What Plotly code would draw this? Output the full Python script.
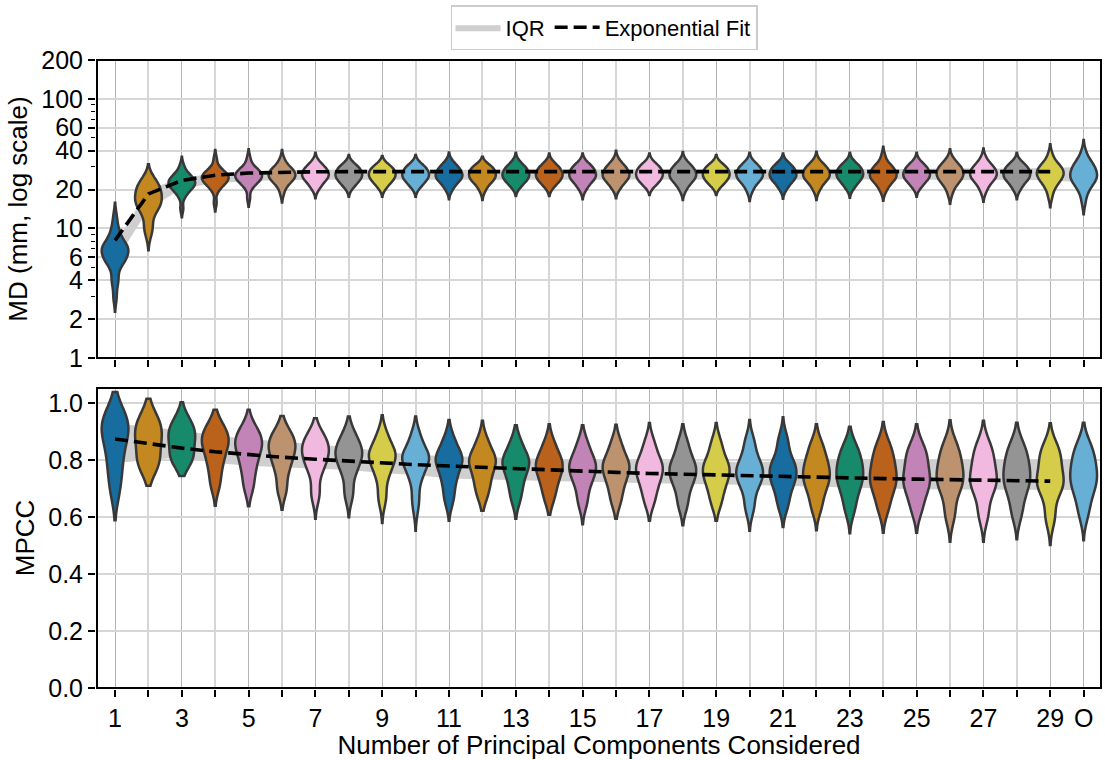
import math
import plotly.graph_objects as go

# ---------------- data ----------------
categories = [str(i) for i in range(1, 30)] + ["O"]
tick_labels = ["1", "3", "5", "7", "9", "11", "13", "15", "17", "19", "21",
               "23", "25", "27", "29", "O"]

# MD (mm) per category: violin tail tips and body quantiles
md_lo_tip = [2.28, 6.8, 12.2, 13.5, 14.7, 15.9, 17.1, 17.6, 17.6, 17.6, 16.8, 16.6, 17.8, 17.8, 16.8,
             17.1, 18.1, 16.6, 18.1, 16.3, 17.0, 16.6, 17.3, 16.4, 17.6, 15.5, 16.1, 16.8, 14.6, 12.9]
md_hi_tip = [15.8, 31.3, 35.8, 40.4, 40.9, 40.4, 38.5, 37.0, 36.3, 37.0, 38.7, 35.8, 38.5, 38.0, 38.0,
             39.8, 38.0, 39.0, 37.0, 38.5, 38.0, 39.2, 38.5, 42.7, 38.5, 41.0, 41.5, 38.5, 44.8, 48.3]
md_p10 = [4.0, 10.5, 18.0, 20.0, 21.0, 21.3, 21.5, 21.7, 21.7, 21.7, 21.4, 21.4, 21.8, 21.8, 21.4,
          21.5, 22.0, 21.4, 22.0, 21.3, 21.5, 21.4, 21.6, 21.3, 21.8, 21.0, 21.2, 21.4, 20.5, 19.5]
md_q1 = [5.5, 14.1, 20.4, 22.4, 23.3, 23.6, 23.8, 23.8, 23.8, 23.8, 23.7, 23.6, 23.9, 23.9, 23.7,
         23.8, 24.0, 23.7, 24.0, 23.7, 23.8, 23.8, 23.9, 23.7, 24.0, 23.6, 23.8, 23.8, 23.5, 22.8]
md_med = [6.6, 16.8, 22.4, 24.5, 25.4, 25.8, 26.0, 25.9, 25.9, 25.9, 25.8, 25.7, 26.0, 26.0, 25.9,
          26.0, 26.2, 26.0, 26.1, 26.0, 26.0, 26.1, 26.2, 26.0, 26.1, 26.3, 26.3, 26.1, 26.4, 25.9]
md_q3 = [7.6, 20.0, 24.6, 26.6, 27.6, 28.2, 28.5, 28.4, 28.3, 28.4, 28.5, 28.3, 28.6, 28.6, 28.6,
         28.8, 28.8, 28.7, 28.6, 28.7, 28.7, 28.8, 28.9, 28.9, 28.8, 29.2, 29.1, 28.9, 29.4, 29.8]
md_p90 = [9.5, 23.0, 27.0, 29.2, 30.2, 30.8, 30.8, 30.5, 30.3, 30.5, 30.8, 30.3, 30.8, 30.7, 30.7,
          31.2, 30.9, 31.0, 30.6, 30.9, 30.8, 31.0, 31.0, 31.6, 30.9, 31.8, 31.8, 31.0, 32.5, 33.5]
md_fit = [8.1, 18.5, 23.5, 25.8, 26.8, 27.2, 27.4, 27.5, 27.5, 27.5, 27.5, 27.5, 27.5, 27.5, 27.5,
          27.5, 27.5, 27.5, 27.5, 27.5, 27.5, 27.5, 27.5, 27.5, 27.5, 27.5, 27.5, 27.5, 27.5]

# MPCC per category
mpcc_lo_tip = [0.589, 0.71, 0.744, 0.64, 0.638, 0.626, 0.594, 0.599, 0.579, 0.552, 0.587, 0.622, 0.594, 0.608, 0.575,
               0.594, 0.587, 0.571, 0.587, 0.552, 0.565, 0.554, 0.543, 0.545, 0.545, 0.513, 0.513, 0.522, 0.502, 0.519]
mpcc_hi_tip = [1.039, 1.015, 1.003, 0.977, 0.977, 0.955, 0.947, 0.953, 0.957, 0.953, 0.941, 0.938, 0.922, 0.926, 0.922,
               0.924, 0.930, 0.926, 0.930, 0.941, 0.950, 0.926, 0.917, 0.934, 0.926, 0.940, 0.938, 0.931, 0.929, 0.931]
mpcc_p10 = [0.70, 0.78, 0.80, 0.72, 0.71, 0.70, 0.69, 0.69, 0.68, 0.67, 0.67, 0.68, 0.67, 0.67, 0.66,
            0.66, 0.66, 0.65, 0.655, 0.645, 0.65, 0.645, 0.64, 0.64, 0.635, 0.62, 0.62, 0.625, 0.61, 0.63]
mpcc_q1 = [0.79, 0.80, 0.81, 0.79, 0.78, 0.775, 0.77, 0.765, 0.755, 0.748, 0.735, 0.733, 0.73, 0.727, 0.724,
           0.721, 0.718, 0.716, 0.714, 0.713, 0.71, 0.705, 0.702, 0.70, 0.698, 0.697, 0.696, 0.695, 0.695, 0.695]
mpcc_med = [0.88, 0.87, 0.87, 0.85, 0.84, 0.83, 0.82, 0.815, 0.81, 0.805, 0.795, 0.79, 0.785, 0.775, 0.77,
            0.77, 0.765, 0.76, 0.76, 0.755, 0.755, 0.75, 0.75, 0.745, 0.74, 0.745, 0.74, 0.745, 0.735, 0.745]
mpcc_q3 = [0.93, 0.915, 0.905, 0.885, 0.875, 0.865, 0.855, 0.845, 0.83, 0.818, 0.814, 0.81, 0.806, 0.803, 0.80,
           0.798, 0.797, 0.795, 0.794, 0.793, 0.795, 0.797, 0.798, 0.80, 0.80, 0.80, 0.80, 0.80, 0.80, 0.80]
mpcc_p90 = [0.96, 0.95, 0.94, 0.92, 0.91, 0.90, 0.89, 0.89, 0.885, 0.88, 0.87, 0.865, 0.86, 0.855, 0.855,
            0.855, 0.855, 0.855, 0.855, 0.855, 0.86, 0.85, 0.845, 0.85, 0.845, 0.85, 0.85, 0.85, 0.845, 0.85]
mpcc_fit = [0.874, 0.857, 0.842, 0.829, 0.818, 0.810, 0.803, 0.796, 0.789, 0.784, 0.779, 0.774, 0.769, 0.765,
            0.761, 0.757, 0.753, 0.750, 0.747, 0.745, 0.742, 0.740, 0.737, 0.735, 0.733, 0.731, 0.729, 0.727, 0.726]

md_ticks = [1, 2, 4, 6, 10, 20, 40, 60, 100, 200]
md_minor = [3, 5, 7, 8, 9, 30, 50, 70, 80, 90]
mpcc_ticks = [0.0, 0.2, 0.4, 0.6, 0.8, 1.0]

# ---------------- style ----------------
palette = ["#176da0", "#c38820", "#168a6a", "#ba621b", "#c283b6",
           "#bd926e", "#f2b9e0", "#949494", "#d5cc4a", "#68afd6"]
edge = "#383838"
band_color = "#cfcfcf"
FONT = "Liberation Sans, Arial, Helvetica, sans-serif"
TICK_SIZE = 25
TITLE_SIZE = 26
BW_BASE_MD = 0.034      # kde bandwidth floor, log10 units
BW_BASE_MPCC = 0.036
BW_IQR_FACTOR = 0.4
# probability mass each quantile stands for (as repeat counts): tip, p10, q1, med, q3, p90, tip
QWEIGHT = [1, 2, 4, 5, 4, 2, 1]

xpos = list(range(len(categories)))
lg = math.log10


def violin_samples(lo_tip, p10, q1, med, q3, p90, hi_tip, base):
    bw = max(base, BW_IQR_FACTOR * (q3 - q1))
    lo = min(lo_tip + 2 * bw, p10)
    hi = max(hi_tip - 2 * bw, p90)
    vals = []
    for v, w in zip([lo, p10, q1, med, q3, p90, hi], QWEIGHT):
        vals += [v] * w
    return vals, bw


fig = go.Figure()

# IQR bands (drawn beneath the violins)
fig.add_trace(go.Scatter(x=xpos, y=[lg(v) for v in md_q1], mode="lines", line=dict(width=0, color=band_color),
                         showlegend=False, hoverinfo="skip", legendgroup="iqr", zorder=-1,
                         xaxis="x", yaxis="y"))
fig.add_trace(go.Scatter(x=xpos, y=[lg(v) for v in md_q3], mode="lines", line=dict(width=0, color=band_color),
                         fill="tonexty", fillcolor=band_color, name="IQR", showlegend=True,
                         hoverinfo="skip", legendgroup="iqr", zorder=-1, xaxis="x", yaxis="y"))
fig.add_trace(go.Scatter(x=xpos, y=mpcc_q1, mode="lines", line=dict(width=0, color=band_color),
                         showlegend=False, hoverinfo="skip", legendgroup="iqr", zorder=-1,
                         xaxis="x2", yaxis="y2"))
fig.add_trace(go.Scatter(x=xpos, y=mpcc_q3, mode="lines", line=dict(width=0, color=band_color),
                         fill="tonexty", fillcolor=band_color, showlegend=False,
                         hoverinfo="skip", legendgroup="iqr", zorder=-1, xaxis="x2", yaxis="y2"))

# violins
for i in xpos:
    col = palette[i % len(palette)]
    s_md, bw_md = violin_samples(lg(md_lo_tip[i]), lg(md_p10[i]), lg(md_q1[i]), lg(md_med[i]),
                                 lg(md_q3[i]), lg(md_p90[i]), lg(md_hi_tip[i]), BW_BASE_MD)
    fig.add_trace(go.Violin(x=[i] * len(s_md), y=s_md, width=0.8, scalemode="width",
                            bandwidth=bw_md, spanmode="manual",
                            span=[lg(md_lo_tip[i]), lg(md_hi_tip[i])], fillcolor=col,
                            line=dict(color=edge, width=2.5), points=False,
                            box_visible=False, meanline_visible=False, showlegend=False,
                            hoverinfo="skip", xaxis="x", yaxis="y"))
    s_pc, bw_pc = violin_samples(mpcc_lo_tip[i], mpcc_p10[i], mpcc_q1[i], mpcc_med[i],
                                 mpcc_q3[i], mpcc_p90[i], mpcc_hi_tip[i], BW_BASE_MPCC)
    fig.add_trace(go.Violin(x=[i] * len(s_pc), y=s_pc, width=0.8, scalemode="width",
                            bandwidth=bw_pc, spanmode="manual",
                            span=[mpcc_lo_tip[i], mpcc_hi_tip[i]], fillcolor=col,
                            line=dict(color=edge, width=2.5), points=False,
                            box_visible=False, meanline_visible=False, showlegend=False,
                            hoverinfo="skip", xaxis="x2", yaxis="y2"))

# exponential fits
dash = dict(color="black", width=3.6, dash="13px,6px")
fig.add_trace(go.Scatter(x=xpos[:len(md_fit)], y=[lg(v) for v in md_fit], mode="lines", line=dash,
                         name="Exponential Fit", showlegend=True, legendgroup="fit",
                         hoverinfo="skip", xaxis="x", yaxis="y"))
fig.add_trace(go.Scatter(x=xpos[:len(mpcc_fit)], y=mpcc_fit, mode="lines", line=dash,
                         showlegend=False, legendgroup="fit", hoverinfo="skip",
                         xaxis="x2", yaxis="y2"))

major_x = list(range(0, 29, 2)) + [29]
minor_x = list(range(1, 28, 2))

common = dict(showline=True, linecolor="black", linewidth=2, mirror=True, ticks="outside",
              tickcolor="black", tickwidth=1.5, ticklen=7, zeroline=False,
              tickfont=dict(family=FONT, size=TICK_SIZE, color="black"))
xcommon = dict(range=[-0.54, 29.52], tickmode="array", tickvals=major_x, showgrid=True,
               gridcolor="#b3b3b3", gridwidth=1, ticklabelstandoff=0,
               minor=dict(tickmode="array", tickvals=minor_x, ticks="outside", ticklen=7,
                          tickwidth=1.5, tickcolor="black", showgrid=True,
                          gridcolor="#d6d6d6", gridwidth=2),
               **common)

frame = dict(type="rect", x0=0, x1=1, y0=0, y1=1, line=dict(color="black", width=2),
             fillcolor="rgba(0,0,0,0)", layer="above")

fig.update_layout(
    width=1105, height=760,
    margin=dict(l=97, r=2, t=60, b=72),
    plot_bgcolor="white", paper_bgcolor="white",
    font=dict(family=FONT, color="black"),
    violinmode="overlay",
    xaxis=dict(domain=[0, 1], anchor="y", showticklabels=False, **xcommon),
    xaxis2=dict(domain=[0, 1], anchor="y2", ticktext=tick_labels,
                title=dict(text="Number of Principal Components Considered",
                           font=dict(family=FONT, size=TITLE_SIZE, color="black"), standoff=8),
                **xcommon),
    yaxis=dict(domain=[330 / 628, 1], anchor="x", range=[0, lg(200)], tickmode="array",
               tickvals=[lg(v) for v in md_ticks], ticktext=[str(v) for v in md_ticks],
               minor=dict(tickmode="array", tickvals=[lg(v) for v in md_minor], ticks="outside",
                          ticklen=4, tickwidth=1.2, tickcolor="black", showgrid=False),
               showgrid=True, gridcolor="#d6d6d6", gridwidth=1.5, ticklabelstandoff=0,
               title=dict(text="MD (mm, log scale)", font=dict(family=FONT, size=TITLE_SIZE, color="black"),
                          standoff=6),
               **common),
    yaxis2=dict(domain=[0, 300 / 628], anchor="x2", range=[0, 1.053], tickmode="array",
                tickvals=mpcc_ticks, ticktext=["%.1f" % v for v in mpcc_ticks],
                showgrid=True, gridcolor="#d6d6d6", gridwidth=1.5, ticklabelstandoff=0,
                title=dict(text="MPCC", font=dict(family=FONT, size=TITLE_SIZE, color="black"), standoff=6),
                **common),
    legend=dict(orientation="h", x=0.505, xanchor="center", y=1 + 55 / 628, yanchor="top",
                bordercolor="#cccccc", borderwidth=1.5, bgcolor="white",
                font=dict(family=FONT, size=22, color="black"), itemwidth=45),
    shapes=[dict(frame, xref="x domain", yref="y domain"),
            dict(frame, xref="x2 domain", yref="y2 domain")],
)

fig.write_html("out.html", config={"displayModeBar": False},
               post_script="document.body.style.margin='0';")
